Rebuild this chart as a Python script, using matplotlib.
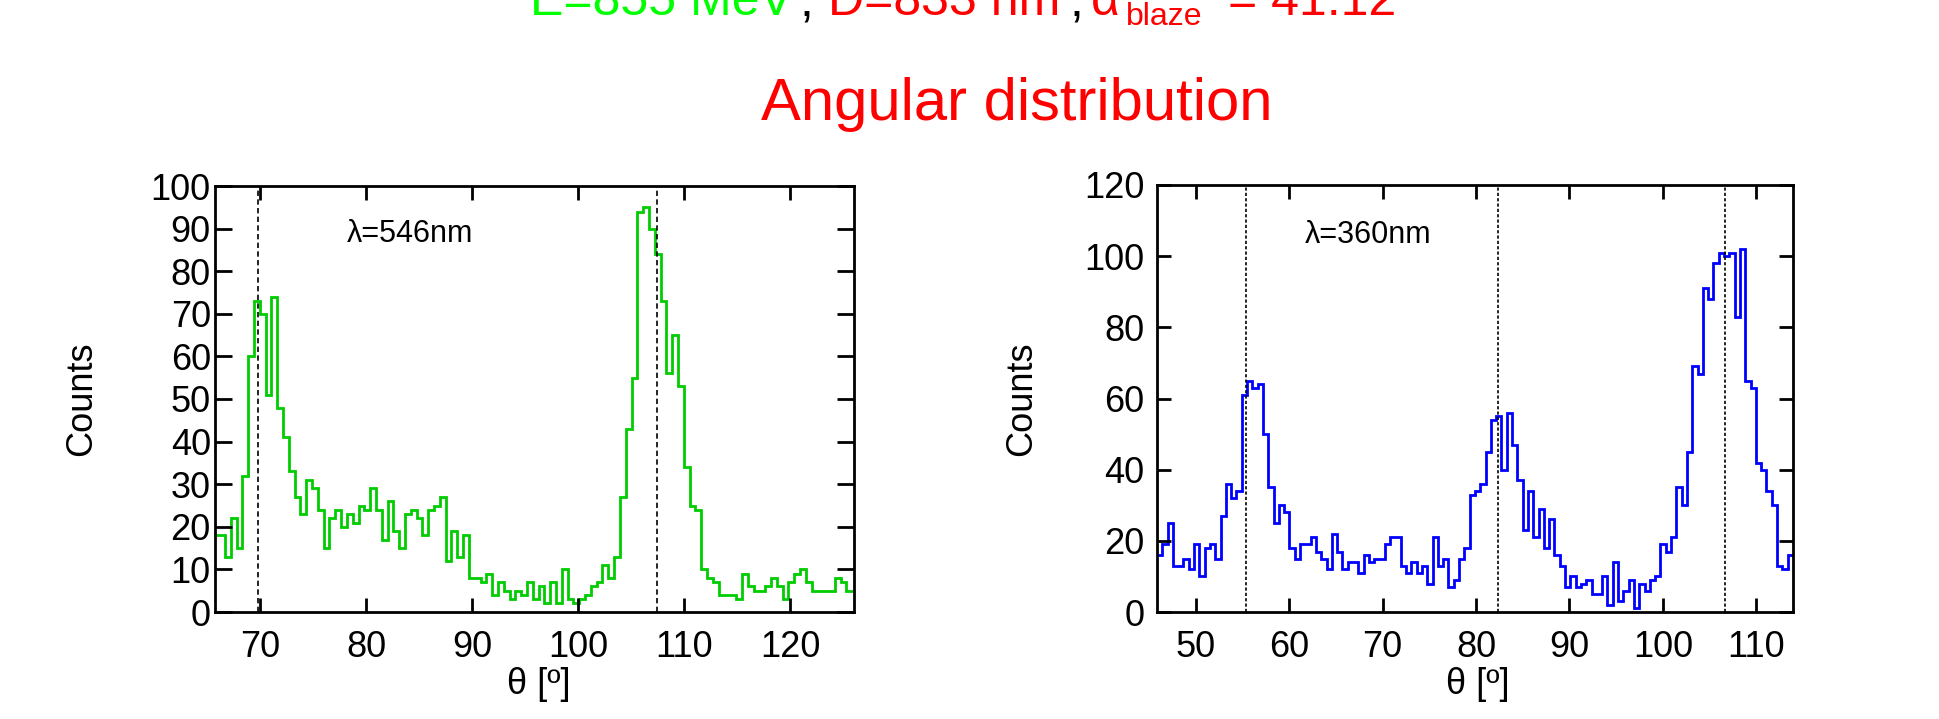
import numpy as np
import matplotlib
matplotlib.use("Agg")
import matplotlib.pyplot as plt

plt.rcParams['font.family'] = ['Liberation Sans', 'DejaVu Sans']

# Angular distributions, histogram counts per theta bin (degrees)

# lambda = 546 nm
theta546_lo = 65.60
theta546_bin = 0.5476
counts546 = [18, 18, 13, 22, 15, 32, 60, 73, 70, 51,
             74, 48, 41, 33, 27, 23, 31, 29, 24, 15,
             22, 24, 20, 23, 21, 25, 24, 29, 24, 17,
             26, 19, 15, 23, 24, 22, 18, 24, 25, 27,
             12, 19, 13, 18, 8, 8, 7, 9, 4, 7,
             5, 3, 5, 4, 7, 3, 6, 2, 7, 2,
             10, 3, 2, 3, 4, 6, 7, 11, 8, 13,
             27, 43, 55, 94, 95, 90, 84, 73, 56, 65,
             53, 34, 25, 24, 10, 8, 7, 4, 4, 4,
             3, 9, 6, 5, 5, 6, 8, 6, 3, 7,
             9, 10, 7, 5, 5, 5, 5, 8, 7, 5,
             5]
peaks546 = [69.84, 107.39]

# lambda = 360 nm
theta360_lo = 45.85
theta360_bin = 0.5673
counts360 = [16, 19, 25, 13, 13, 15, 12, 19, 10, 18,
             19, 15, 27, 36, 32, 34, 61, 65, 63, 64,
             50, 35, 25, 30, 28, 18, 15, 19, 19, 21,
             17, 15, 12, 22, 17, 12, 14, 14, 11, 16,
             14, 15, 15, 19, 21, 21, 13, 11, 14, 11,
             13, 8, 21, 13, 15, 7, 9, 15, 18, 33,
             34, 36, 45, 54, 55, 40, 56, 47, 37, 23,
             34, 21, 29, 18, 26, 16, 13, 7, 10, 7,
             8, 9, 5, 5, 10, 2, 14, 3, 6, 9,
             1, 8, 6, 9, 10, 19, 17, 21, 35, 30,
             45, 69, 67, 91, 88, 98, 101, 100, 101, 83,
             102, 65, 63, 42, 40, 34, 30, 13, 12, 16]
peaks360 = [55.43, 82.3, 106.6]

W, H = 1939, 719
fig = plt.figure(figsize=(W / 100, H / 100), dpi=100)
fig.patch.set_facecolor('white')


def px_axes(x0, x1, y0, y1):
    # axes from pixel box (origin top-left)
    return fig.add_axes([x0 / W, 1 - y1 / H, (x1 - x0) / W, (y1 - y0) / H])


def edges(lo, width, n):
    return lo + width * np.arange(n + 1)


def style(ax, xlen, ylen, ypad):
    for sp in ax.spines.values():
        sp.set_linewidth(2.0)
        sp.set_zorder(5)
    ax.tick_params(direction='in', top=True, right=True, width=2.0,
                   labelsize=26, colors='black')
    ax.tick_params(axis='x', length=xlen, pad=13)
    ax.tick_params(axis='y', length=ylen, pad=ypad)
    ax.minorticks_off()


# left panel
ax1 = px_axes(215, 854, 186, 612)
ax1.stairs(counts546, edges(theta546_lo, theta546_bin, len(counts546)),
           color='#00cc00', linewidth=2.0, baseline=None)
for p in peaks546:
    ax1.axvline(p, color='black', lw=1.2, ls=(0, (3.2, 2.0)), zorder=3)
ax1.set_xlim(65.76, 126.0)
ax1.set_ylim(0, 100)
ax1.set_xticks(np.arange(70, 121, 10))
ax1.set_yticks(np.arange(0, 101, 10))
style(ax1, 10, 12, 3)
ax1.text(0.206, 0.868, 'λ=546nm', transform=ax1.transAxes, fontsize=22,
         ha='left', va='baseline')

# right panel
ax2 = px_axes(1157, 1793, 185, 612)
ax2.stairs(counts360, edges(theta360_lo, theta360_bin, len(counts360)),
           color='#0000ff', linewidth=2.0, baseline=None)
for p in peaks360:
    ax2.axvline(p, color='black', lw=1.2, ls=(0, (1.9, 1.3)), zorder=3)
ax2.set_xlim(45.85, 113.93)
ax2.set_ylim(0, 120)
ax2.set_xticks(np.arange(50, 111, 10))
ax2.set_yticks(np.arange(0, 121, 20))
style(ax2, 10, 10, 9)
ax2.text(0.233, 0.864, 'λ=360nm', transform=ax2.transAxes, fontsize=22,
         ha='left', va='baseline')

# axis titles
for xc in (82, 1022):
    fig.text(xc / W, 1 - 399 / H, 'Counts', rotation=90, fontsize=26,
             ha='center', va='center')
for xc in (539, 1478):
    fig.text(xc / W, 1 - 694 / H, 'θ [º]', fontsize=26,
             ha='center', va='baseline')

# headline, first line runs off the top edge
base = 1 - 15 / H
pieces = [
    ('E=855 MeV', 530, '#00ff00', 36, 0),
    (',', 800, 'black', 36, 0),
    ('D=833 nm', 828, '#ff0000', 36, 0),
    (',', 1070, 'black', 36, 0),
    ('α', 1091, '#ff0000', 36, 0),
    ('blaze', 1126, '#ff0000', 23, 10),
    ('= 41.12', 1228, '#ff0000', 36, 0),
]
for s, x, c, size, dy in pieces:
    fig.text(x / W, base - dy / H, s, color=c, fontsize=size,
             ha='left', va='baseline')

fig.text(761 / W, 1 - 120 / H, 'Angular distribution', color='#ff0000',
         fontsize=43, ha='left', va='baseline')

fig.savefig('out.png', dpi=100, facecolor='white')
